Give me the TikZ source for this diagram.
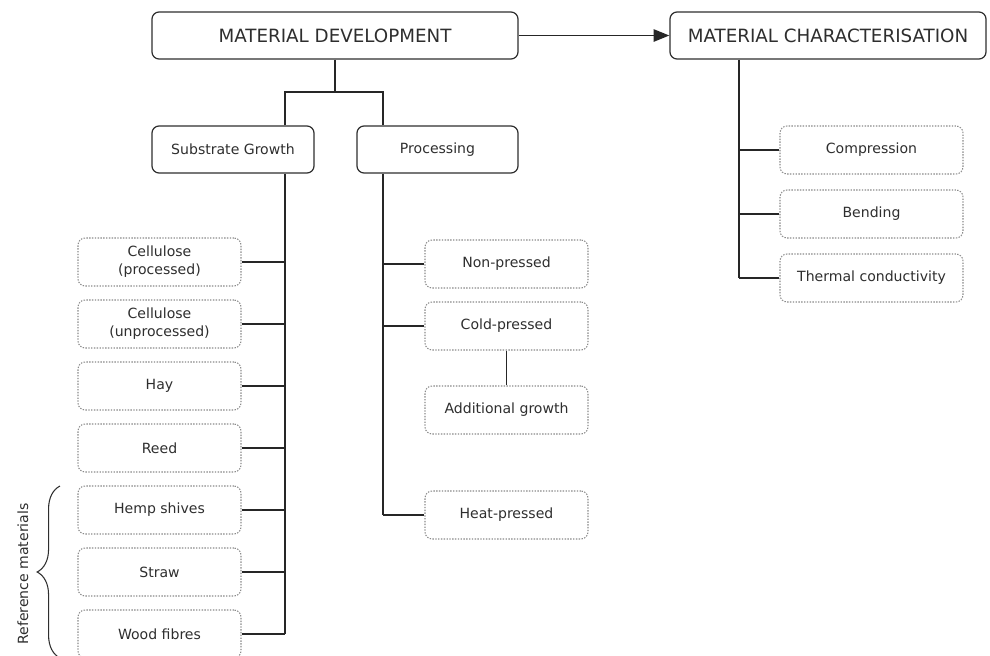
\documentclass[tikz,border=0pt]{standalone}
\usepackage{fontspec}
\setmainfont{DejaVu Sans}
\usepackage{tikz}
\usetikzlibrary{arrows, arrows.meta, decorations.pathreplacing}
\definecolor{inkgray}{HTML}{2E2E2E}
\definecolor{dotgray}{HTML}{8A8A8A}
\tikzstyle{mainbox} = [rectangle, rounded corners=4pt, minimum height=0.94cm, text centered, draw=inkgray, line width=0.7pt, text=inkgray, font=\fontsize{10.4}{12}\selectfont]
\tikzstyle{subbox} = [rectangle, rounded corners=4pt, minimum width=3.24cm, minimum height=0.94cm, text centered, draw=inkgray, line width=0.7pt, text=inkgray, font=\fontsize{8}{10}\selectfont]
\tikzstyle{item} = [rectangle, rounded corners=4pt, minimum width=3.26cm, minimum height=0.96cm, align=center, draw=dotgray, dash pattern=on 0.8pt off 0.8pt, line width=0.6pt, text=inkgray, font=\fontsize{8}{10.2}\selectfont]
\tikzstyle{link} = [line width=1.1pt, draw=black!85]
\tikzstyle{arrow} = [line width=1.1pt, -{Triangle[length=9pt, width=7pt]}, draw=black!85]

\begin{document}
\begin{tikzpicture}[node distance=1.24cm]
\useasboundingbox (0,0) rectangle (19.8,-13.1);
% Nodes
\node (md) [mainbox, minimum width=7.32cm] at (6.70,-0.71) {MATERIAL DEVELOPMENT};
\node (mc) [mainbox, minimum width=6.32cm] at (16.56,-0.71) {MATERIAL CHARACTERISATION};
\node (sg) [subbox] at (4.66,-2.99) {Substrate Growth};
\node (proc) [subbox, minimum width=3.22cm] at (8.75,-2.99) {Processing};

\node (cellp) [item] at (3.19,-5.24) {Cellulose\\(processed)};
\node (cellu) [item, below of=cellp] {Cellulose\\(unprocessed)};
\node (hay) [item, below of=cellu] {Hay};
\node (reed) [item, below of=hay] {Reed};
\node (hemp) [item, below of=reed] {Hemp shives};
\node (straw) [item, below of=hemp] {Straw};
\node (wood) [item, below of=straw] {Wood fibres};

\node (nonp) [item] at (10.13,-5.28) {Non-pressed};
\node (cold) [item, below of=nonp] {Cold-pressed};
\node (addg) [item, node distance=1.68cm, below of=cold] {Additional growth};
\node (heat) [item, node distance=2.1cm, below of=addg] {Heat-pressed};

\node (comp) [item, minimum width=3.66cm] at (17.43,-3.0) {Compression};
\node (bend) [item, minimum width=3.66cm, node distance=1.28cm, below of=comp] {Bending};
\node (therm) [item, minimum width=3.66cm, node distance=1.28cm, below of=bend] {Thermal conductivity};

\node (reflabel) [rotate=90, text=inkgray, font=\fontsize{8}{10}\selectfont] at (0.46,-11.48) {Reference materials};

% Trunk positions
\coordinate (fork) at (6.70,-1.84);
\coordinate (sgx) at (5.70,0);
\coordinate (procx) at (7.66,0);
\coordinate (mcx) at (14.78,0);
\coordinate (brtop) at (1.2,-9.72);
\coordinate (brbot) at (1.2,-13.16);

% Arrows
\draw [arrow] (md.east) -- (mc.west);
\draw [link] (md.south) -- (fork);
\draw [link] (sg.north -| sgx) |- (fork) -| (proc.north -| procx);

\draw [link] (sg.south -| sgx) -- (wood.east -| sgx);
\draw [link] (cellp.east) -- (cellp.east -| sgx);
\draw [link] (cellu.east) -- (cellu.east -| sgx);
\draw [link] (hay.east) -- (hay.east -| sgx);
\draw [link] (reed.east) -- (reed.east -| sgx);
\draw [link] (hemp.east) -- (hemp.east -| sgx);
\draw [link] (straw.east) -- (straw.east -| sgx);
\draw [link] (wood.east) -- (wood.east -| sgx);

\draw [link] (proc.south -| procx) -- (heat.west -| procx);
\draw [link] (nonp.west) -- (nonp.west -| procx);
\draw [link] (cold.west) -- (cold.west -| procx);
\draw [link] (heat.west) -- (heat.west -| procx);
\draw [link] (cold) -- (addg);

\draw [link] (mc.south -| mcx) -- (therm.west -| mcx);
\draw [link] (comp.west) -- (comp.west -| mcx);
\draw [link] (bend.west) -- (bend.west -| mcx);
\draw [link] (therm.west) -- (therm.west -| mcx);

% Brace
\draw [decorate, decoration={brace, amplitude=13pt}, draw=inkgray, line width=0.6pt] (brbot) -- (brtop);
\end{tikzpicture}
\end{document}
